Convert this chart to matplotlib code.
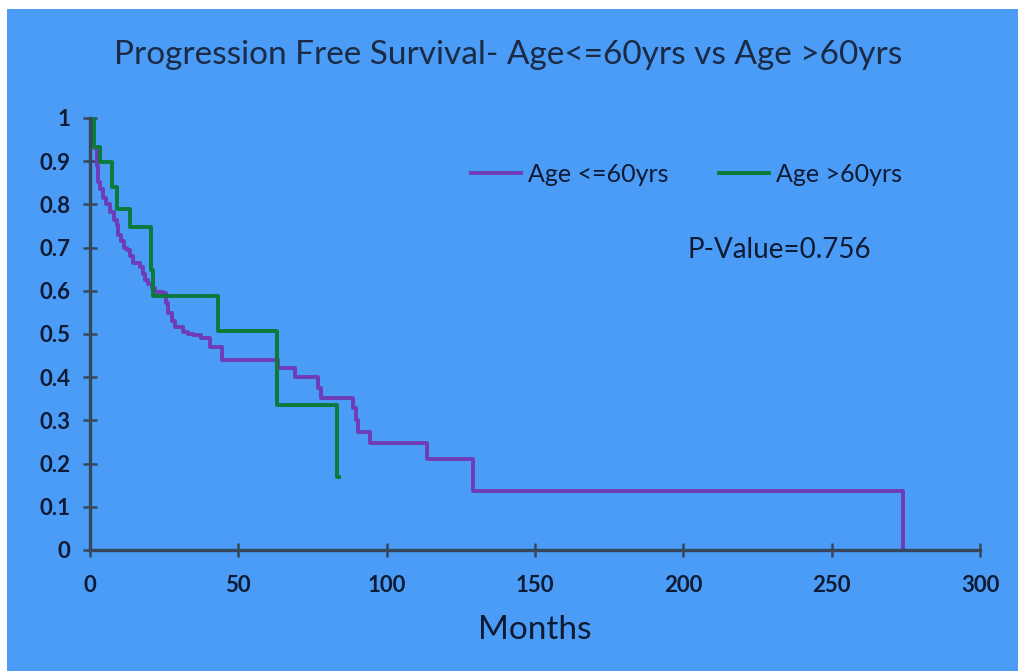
import matplotlib
matplotlib.use("Agg")
import matplotlib.pyplot as plt
from matplotlib.patches import Rectangle

# Kaplan-Meier style step data (months, survival)
young_t = [0, 0.5, 1, 1.5, 2.2, 2.8, 3.5, 4.5, 5.5, 6.7, 8, 9, 9.5, 10.5, 11.5,
           12.4, 13.5, 14.6, 16.9, 17.8, 18.5, 19.5, 20.8, 22, 24.6, 25.5, 26.3,
           27.5, 28.6, 31.4, 33, 34.8, 37.5, 40.4, 44.5, 63.5, 69.1, 77, 78,
           88.7, 89.5, 90.5, 94.4, 113.5, 129, 274]
young_s = [1, 0.97, 0.95, 0.93, 0.89, 0.853, 0.835, 0.815, 0.80, 0.783, 0.765,
           0.752, 0.729, 0.715, 0.70, 0.694, 0.68, 0.664, 0.656, 0.64, 0.625,
           0.615, 0.606, 0.598, 0.595, 0.571, 0.549, 0.53, 0.517, 0.505, 0.50,
           0.498, 0.49, 0.471, 0.44, 0.421, 0.401, 0.375, 0.351, 0.328, 0.30,
           0.274, 0.247, 0.211, 0.137, 0]

old_t = [0, 1.2, 3.4, 7.3, 9.1, 13.5, 20.6, 21.3, 43.1, 63, 83.2, 84]
old_s = [1, 0.933, 0.898, 0.84, 0.79, 0.748, 0.648, 0.588, 0.507, 0.335, 0.168, 0.168]

labels = ["Age <=60yrs", "Age >60yrs"]
x_ticks = [0, 50, 100, 150, 200, 250, 300]
y_ticks = [0, 0.1, 0.2, 0.3, 0.4, 0.5, 0.6, 0.7, 0.8, 0.9, 1]
y_ticklabels = ["0", "0.1", "0.2", "0.3", "0.4", "0.5", "0.6", "0.7", "0.8", "0.9", "1"]

bg = "#4a9cf6"
ink = "#0f1a33"
axis_col = "#37465a"

plt.rcParams['font.family'] = ['Lato', 'DejaVu Sans']

fig = plt.figure(figsize=(10.18, 6.71), dpi=100)
fig.patch.set_facecolor("white")
fig.patches.append(Rectangle((7 / 1018, 0), 1, 1 - 9 / 671, transform=fig.transFigure,
                             facecolor=bg, edgecolor="none", zorder=-10))

ax = fig.add_axes([90 / 1018, 121 / 671, 890 / 1018, 432 / 671])
ax.set_facecolor("none")

ax.step(young_t, young_s, where="post", color="#6f3cb8", lw=2.8, label=labels[0])
ax.step(old_t, old_s, where="post", color="#0b7a3a", lw=2.8, label=labels[1])

ax.set_xlim(0, 300)
ax.set_ylim(0, 1)
for s in ["top", "right"]:
    ax.spines[s].set_visible(False)
for s in ["left", "bottom"]:
    ax.spines[s].set_color(axis_col)
    ax.spines[s].set_linewidth(2.4)
    ax.spines[s].set_clip_on(False)

ax.set_xticks(x_ticks)
ax.set_yticks(y_ticks)
ax.set_yticklabels(y_ticklabels)
ax.tick_params(axis="both", direction="inout", length=10, width=1.8, color=axis_col,
               labelsize=16, labelcolor=ink)
ax.tick_params(axis="x", pad=13)
ax.tick_params(axis="y", pad=9)
for lab in ax.get_xticklabels() + ax.get_yticklabels():
    lab.set_fontweight("bold")

ax.set_xlabel("Months", fontsize=24, color=ink, labelpad=14)
fig.text(508 / 1018, 1 - 55 / 671, "Progression Free Survival- Age<=60yrs vs Age >60yrs",
         ha="center", va="center", fontsize=24, color="#1b2a45")

ax.legend(ncol=2, frameon=False, loc="center", bbox_to_anchor=(0.67, 0.87),
          fontsize=18, handlelength=2.0, handletextpad=0.3, columnspacing=2.0,
          labelcolor=ink)
ax.text(0.775, 0.694, "P-Value=0.756", transform=ax.transAxes, ha="center",
        va="center", fontsize=20, color=ink)

fig.savefig("out.png", dpi=100, facecolor=fig.get_facecolor())
